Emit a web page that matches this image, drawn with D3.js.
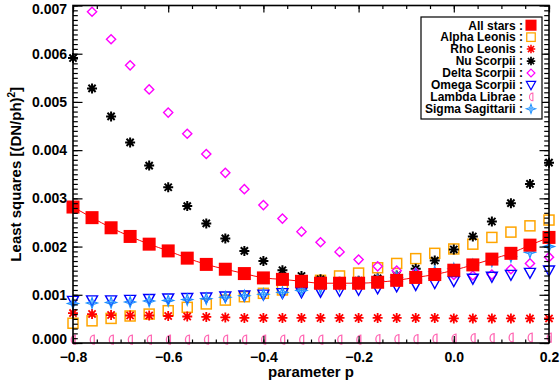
<!DOCTYPE html>
<html>
<head>
<meta charset="utf-8">
<script src="https://cdn.jsdelivr.net/npm/d3@7"></script>
<style>
  html, body { margin: 0; padding: 0; background: #fff; }
  svg { display: block; }
  text { font-family: "Liberation Sans", Arial, Helvetica, sans-serif; font-weight: bold; fill: #000; }
</style>
</head>
<body>
<svg id="chart" width="560" height="387"></svg>
<script>
// Parameter grid (x) and least-squares residuals per star, in units of 1e-3 (DN/ph)^2
const pValues = [-0.80, -0.76, -0.72, -0.68, -0.64, -0.60, -0.56, -0.52, -0.48, -0.44,
                 -0.40, -0.36, -0.32, -0.28, -0.24, -0.20, -0.16, -0.12, -0.08, -0.04,
                  0.00,  0.04,  0.08,  0.12,  0.16,  0.20];

const allStars = [2.82, 2.60, 2.39, 2.21, 2.05, 1.91, 1.76, 1.63, 1.53, 1.44,
                  1.35, 1.32, 1.28, 1.24, 1.24, 1.24, 1.26, 1.30, 1.36, 1.42,
                  1.51, 1.62, 1.74, 1.86, 2.03, 2.19];
const alphaLeonis = [0.41, 0.46, 0.51, 0.56, 0.60, 0.67, 0.74, 0.81, 0.89, 0.96,
                     1.03, 1.10, 1.22, 1.30, 1.39, 1.45, 1.56, 1.65, 1.75, 1.86,
                     1.95, 2.05, 2.19, 2.30, 2.43, 2.55];
const rhoLeonis = [0.62, 0.60, 0.58, 0.57, 0.57, 0.56, 0.55, 0.54, 0.53, 0.52,
                   0.52, 0.52, 0.52, 0.52, 0.52, 0.52, 0.52, 0.52, 0.52, 0.52,
                   0.51, 0.51, 0.51, 0.51, 0.51, 0.51];
const nuScorpii = [5.91, 5.28, 4.70, 4.16, 3.68, 3.23, 2.84, 2.48, 2.17, 1.91,
                   1.70, 1.51, 1.39, 1.32, 1.27, 1.29, 1.34, 1.40, 1.54, 1.71,
                   1.94, 2.21, 2.52, 2.90, 3.30, 3.74];
const deltaScorpii = [null, 6.87, 6.30, 5.76, 5.26, 4.78, 4.34, 3.92, 3.53, 3.19,
                      2.86, 2.58, 2.31, 2.09, 1.89, 1.73, 1.59, 1.50, 1.46, 1.43,
                      1.41, 1.40, 1.42, 1.53, 1.65, 1.78];
const omegaScorpii = [0.88, 0.89, 0.89, 0.90, 0.92, 0.93, 0.94, 0.95, 0.97, 0.99,
                      1.01, 1.04, 1.06, 1.07, 1.09, 1.11, 1.14, 1.18, 1.21, 1.25,
                      1.29, 1.34, 1.38, 1.42, 1.46, 1.51];
const lambdaLibrae = [0.07, 0.07, 0.07, 0.07, 0.07, 0.07, 0.07, 0.07, 0.07, 0.07,
                      0.07, 0.07, 0.07, 0.07, 0.07, 0.07, 0.08, 0.08, 0.08, 0.09,
                      0.09, 0.10, 0.10, 0.11, 0.11, 0.11];
const sigmaSagittarii = [0.82, 0.83, 0.84, 0.85, 0.87, 0.88, 0.90, 0.92, 0.95, 0.98,
                         1.01, 1.05, 1.09, 1.14, 1.19, 1.25, 1.30, 1.36, 1.43, 1.48,
                         1.54, 1.62, 1.70, 1.79, 1.88, 2.00];

const seriesNames = ["All stars", "Alpha Leonis", "Rho Leonis", "Nu Scorpii",
                     "Delta Scorpii", "Omega Scorpii", "Lambda Librae", "Sigma Sagittarii"];

const xTicks = [-0.8, -0.6, -0.4, -0.2, 0.0, 0.2];
const yTicks = [0, 0.001, 0.002, 0.003, 0.004, 0.005, 0.006, 0.007];
const unit = 1e-3;

const svg = d3.select("#chart");
const plotLeft = 73, plotRight = 549, plotTop = 5.5, plotBottom = 343;

const x = d3.scaleLinear().domain([-0.8, 0.2]).range([plotLeft, plotRight]);
const y = d3.scaleLinear().domain([0, 0.007]).range([plotBottom, plotTop]);

// --- marker shapes --------------------------------------------------------
const symbols = {
  filledSquare: g => g.append("rect").attr("x", -6.5).attr("y", -6.5).attr("width", 13).attr("height", 13)
      .attr("fill", "#ff0000"),
  openSquare: g => g.append("rect").attr("x", -5).attr("y", -5).attr("width", 10).attr("height", 10)
      .attr("fill", "none").attr("stroke", "#ffa500").attr("stroke-width", 1.5),
  redAsterisk: g => g.append("path").attr("d", "M-5,0H5M0,-5V5M-3.6,-3.6L3.6,3.6M-3.6,3.6L3.6,-3.6")
      .attr("fill", "none").attr("stroke", "#ff0000").attr("stroke-width", 1.8),
  blackAsterisk: g => g.append("path").attr("d", "M-5,0H5M0,-5V5M-3.6,-3.6L3.6,3.6M-3.6,3.6L3.6,-3.6")
      .attr("fill", "none").attr("stroke", "#000").attr("stroke-width", 2),
  diamond: g => g.append("path").attr("d", "M0,-4.6L4.6,0L0,4.6L-4.6,0Z")
      .attr("fill", "none").attr("stroke", "#ff00ff").attr("stroke-width", 1.4),
  downTriangle: g => g.append("path").attr("d", "M-5.5,-4.2L5.5,-4.2L0,5.8Z")
      .attr("fill", "none").attr("stroke", "#0000ff").attr("stroke-width", 1.4),
  halfOval: g => g.append("path").attr("d", "M2.2,-4.5A4,4.5 0 0 0 2.2,4.5Z")
      .attr("fill", "none").attr("stroke", "#ff69b4").attr("stroke-width", 1.3),
  star4: g => {
    g.append("path").attr("d", "M0,-5.5L1.4,-1.4L5.5,0L1.4,1.4L0,5.5L-1.4,1.4L-5.5,0L-1.4,-1.4Z")
      .attr("fill", "none").attr("stroke", "#1e90ff").attr("stroke-width", 1.2);
    g.append("path").attr("d", "M0,-2.5V2.5M-2.5,0H2.5")
      .attr("fill", "none").attr("stroke", "#1e90ff").attr("stroke-width", 1);
  }
};

const series = [
  { name: "Alpha Leonis",     values: alphaLeonis,     sym: "openSquare" },
  { name: "Rho Leonis",       values: rhoLeonis,       sym: "redAsterisk" },
  { name: "Nu Scorpii",       values: nuScorpii,       sym: "blackAsterisk" },
  { name: "Delta Scorpii",    values: deltaScorpii,    sym: "diamond" },
  { name: "Omega Scorpii",    values: omegaScorpii,    sym: "downTriangle" },
  { name: "Lambda Librae",    values: lambdaLibrae,    sym: "halfOval" },
  { name: "Sigma Sagittarii", values: sigmaSagittarii, sym: "star4" },
  { name: "All stars",        values: allStars,        sym: "filledSquare" }
];

// --- data marks -------------------------------------------------------------
const plot = svg.append("g");

// smooth red curve through the combined fit
const line = d3.line()
  .x((d, i) => x(pValues[i]))
  .y(d => y(d * unit))
  .curve(d3.curveMonotoneX);
plot.append("path").datum(allStars).attr("d", line)
  .attr("fill", "none").attr("stroke", "#ff0000").attr("stroke-width", 1);

series.forEach(s => {
  const pts = s.values
    .map((v, i) => ({ p: pValues[i], v }))
    .filter(d => d.v !== null && d.v * unit <= 0.007 && d.v >= 0);
  const g = plot.append("g").attr("class", "series");
  pts.forEach(d => {
    const m = g.append("g").attr("transform", `translate(${x(d.p)},${y(d.v * unit)})`);
    symbols[s.sym](m);
  });
});

// --- axes (ticks point inward on all four sides) ---------------------------
const minorX = d3.range(-0.8, 0.2001, 0.05).map(v => +v.toFixed(2));
const minorY = d3.range(0, 0.00701, 0.0001).map(v => +v.toFixed(4));

function styleAxis(g) {
  g.select(".domain").remove();
  g.selectAll(".tick line").attr("stroke", "#000").attr("stroke-width", 1.2);
  g.selectAll("text").attr("font-size", 14).attr("font-weight", "bold")
    .attr("font-family", "'Liberation Sans', Arial, sans-serif").attr("fill", "#000");
}

svg.append("g").attr("transform", `translate(0,${plotBottom})`)
  .call(d3.axisBottom(x).tickValues(minorX).tickFormat("").tickSizeInner(-3.5).tickSizeOuter(0)).call(styleAxis);
svg.append("g").attr("transform", `translate(0,${plotBottom})`)
  .call(d3.axisBottom(x).tickValues(xTicks).tickFormat(d3.format(".1f")).tickSizeInner(-7).tickSizeOuter(0).tickPadding(9))
  .call(styleAxis);
svg.append("g").attr("transform", `translate(0,${plotTop})`)
  .call(d3.axisTop(x).tickValues(minorX).tickFormat("").tickSizeInner(-3.5).tickSizeOuter(0)).call(styleAxis);
svg.append("g").attr("transform", `translate(0,${plotTop})`)
  .call(d3.axisTop(x).tickValues(xTicks).tickFormat("").tickSizeInner(-7).tickSizeOuter(0)).call(styleAxis);

svg.append("g").attr("transform", `translate(${plotLeft},0)`)
  .call(d3.axisLeft(y).tickValues(minorY).tickFormat("").tickSizeInner(-4.8).tickSizeOuter(0)).call(styleAxis);
const yAxisG = svg.append("g").attr("transform", `translate(${plotLeft},0)`)
  .call(d3.axisLeft(y).tickValues(yTicks).tickFormat(d3.format(".3f")).tickSizeInner(-9.5).tickSizeOuter(0).tickPadding(6))
  .call(styleAxis);
// end labels are nudged inside the frame so they stay on the page
yAxisG.selectAll(".tick text").attr("y", d => d === 0 ? -4 : (d === 0.007 ? 4 : 0));

svg.append("g").attr("transform", `translate(${plotRight},0)`)
  .call(d3.axisRight(y).tickValues(minorY).tickFormat("").tickSizeInner(-4.8).tickSizeOuter(0)).call(styleAxis);
svg.append("g").attr("transform", `translate(${plotRight},0)`)
  .call(d3.axisRight(y).tickValues(yTicks).tickFormat("").tickSizeInner(-9.5).tickSizeOuter(0)).call(styleAxis);

// plot frame
svg.append("rect").attr("x", plotLeft).attr("y", plotTop)
  .attr("width", plotRight - plotLeft).attr("height", plotBottom - plotTop)
  .attr("fill", "none").attr("stroke", "#000").attr("stroke-width", 1.6);

// axis titles
svg.append("text").attr("x", (plotLeft + plotRight) / 2).attr("y", 377).attr("text-anchor", "middle")
  .attr("font-size", 15).text("parameter p");

const yTitle = svg.append("text")
  .attr("transform", `translate(21,${(plotTop + plotBottom) / 2}) rotate(-90)`)
  .attr("text-anchor", "middle").attr("font-size", 15);
yTitle.append("tspan").text("Least squares [(DN/ph)");
yTitle.append("tspan").attr("font-size", 10).attr("dy", -6).text("2");
yTitle.append("tspan").attr("dy", 6).text("]");

// --- legend -----------------------------------------------------------------
const legend = svg.append("g");
legend.append("rect").attr("x", 421).attr("y", 17).attr("width", 121).attr("height", 102)
  .attr("fill", "#fff").attr("stroke", "#000").attr("stroke-width", 1.2);

const legendOrder = seriesNames.map(n => series.find(s => s.name === n));
legendOrder.forEach((s, i) => {
  const base = 29.5 + i * 11.95;
  legend.append("text").attr("x", 523).attr("y", base).attr("text-anchor", "end")
    .attr("font-size", 12).text(s.name + " :");
  const m = legend.append("g").attr("transform", `translate(531,${base - 4.3}) scale(0.85)`);
  symbols[s.sym](m);
});
</script>
</body>
</html>
